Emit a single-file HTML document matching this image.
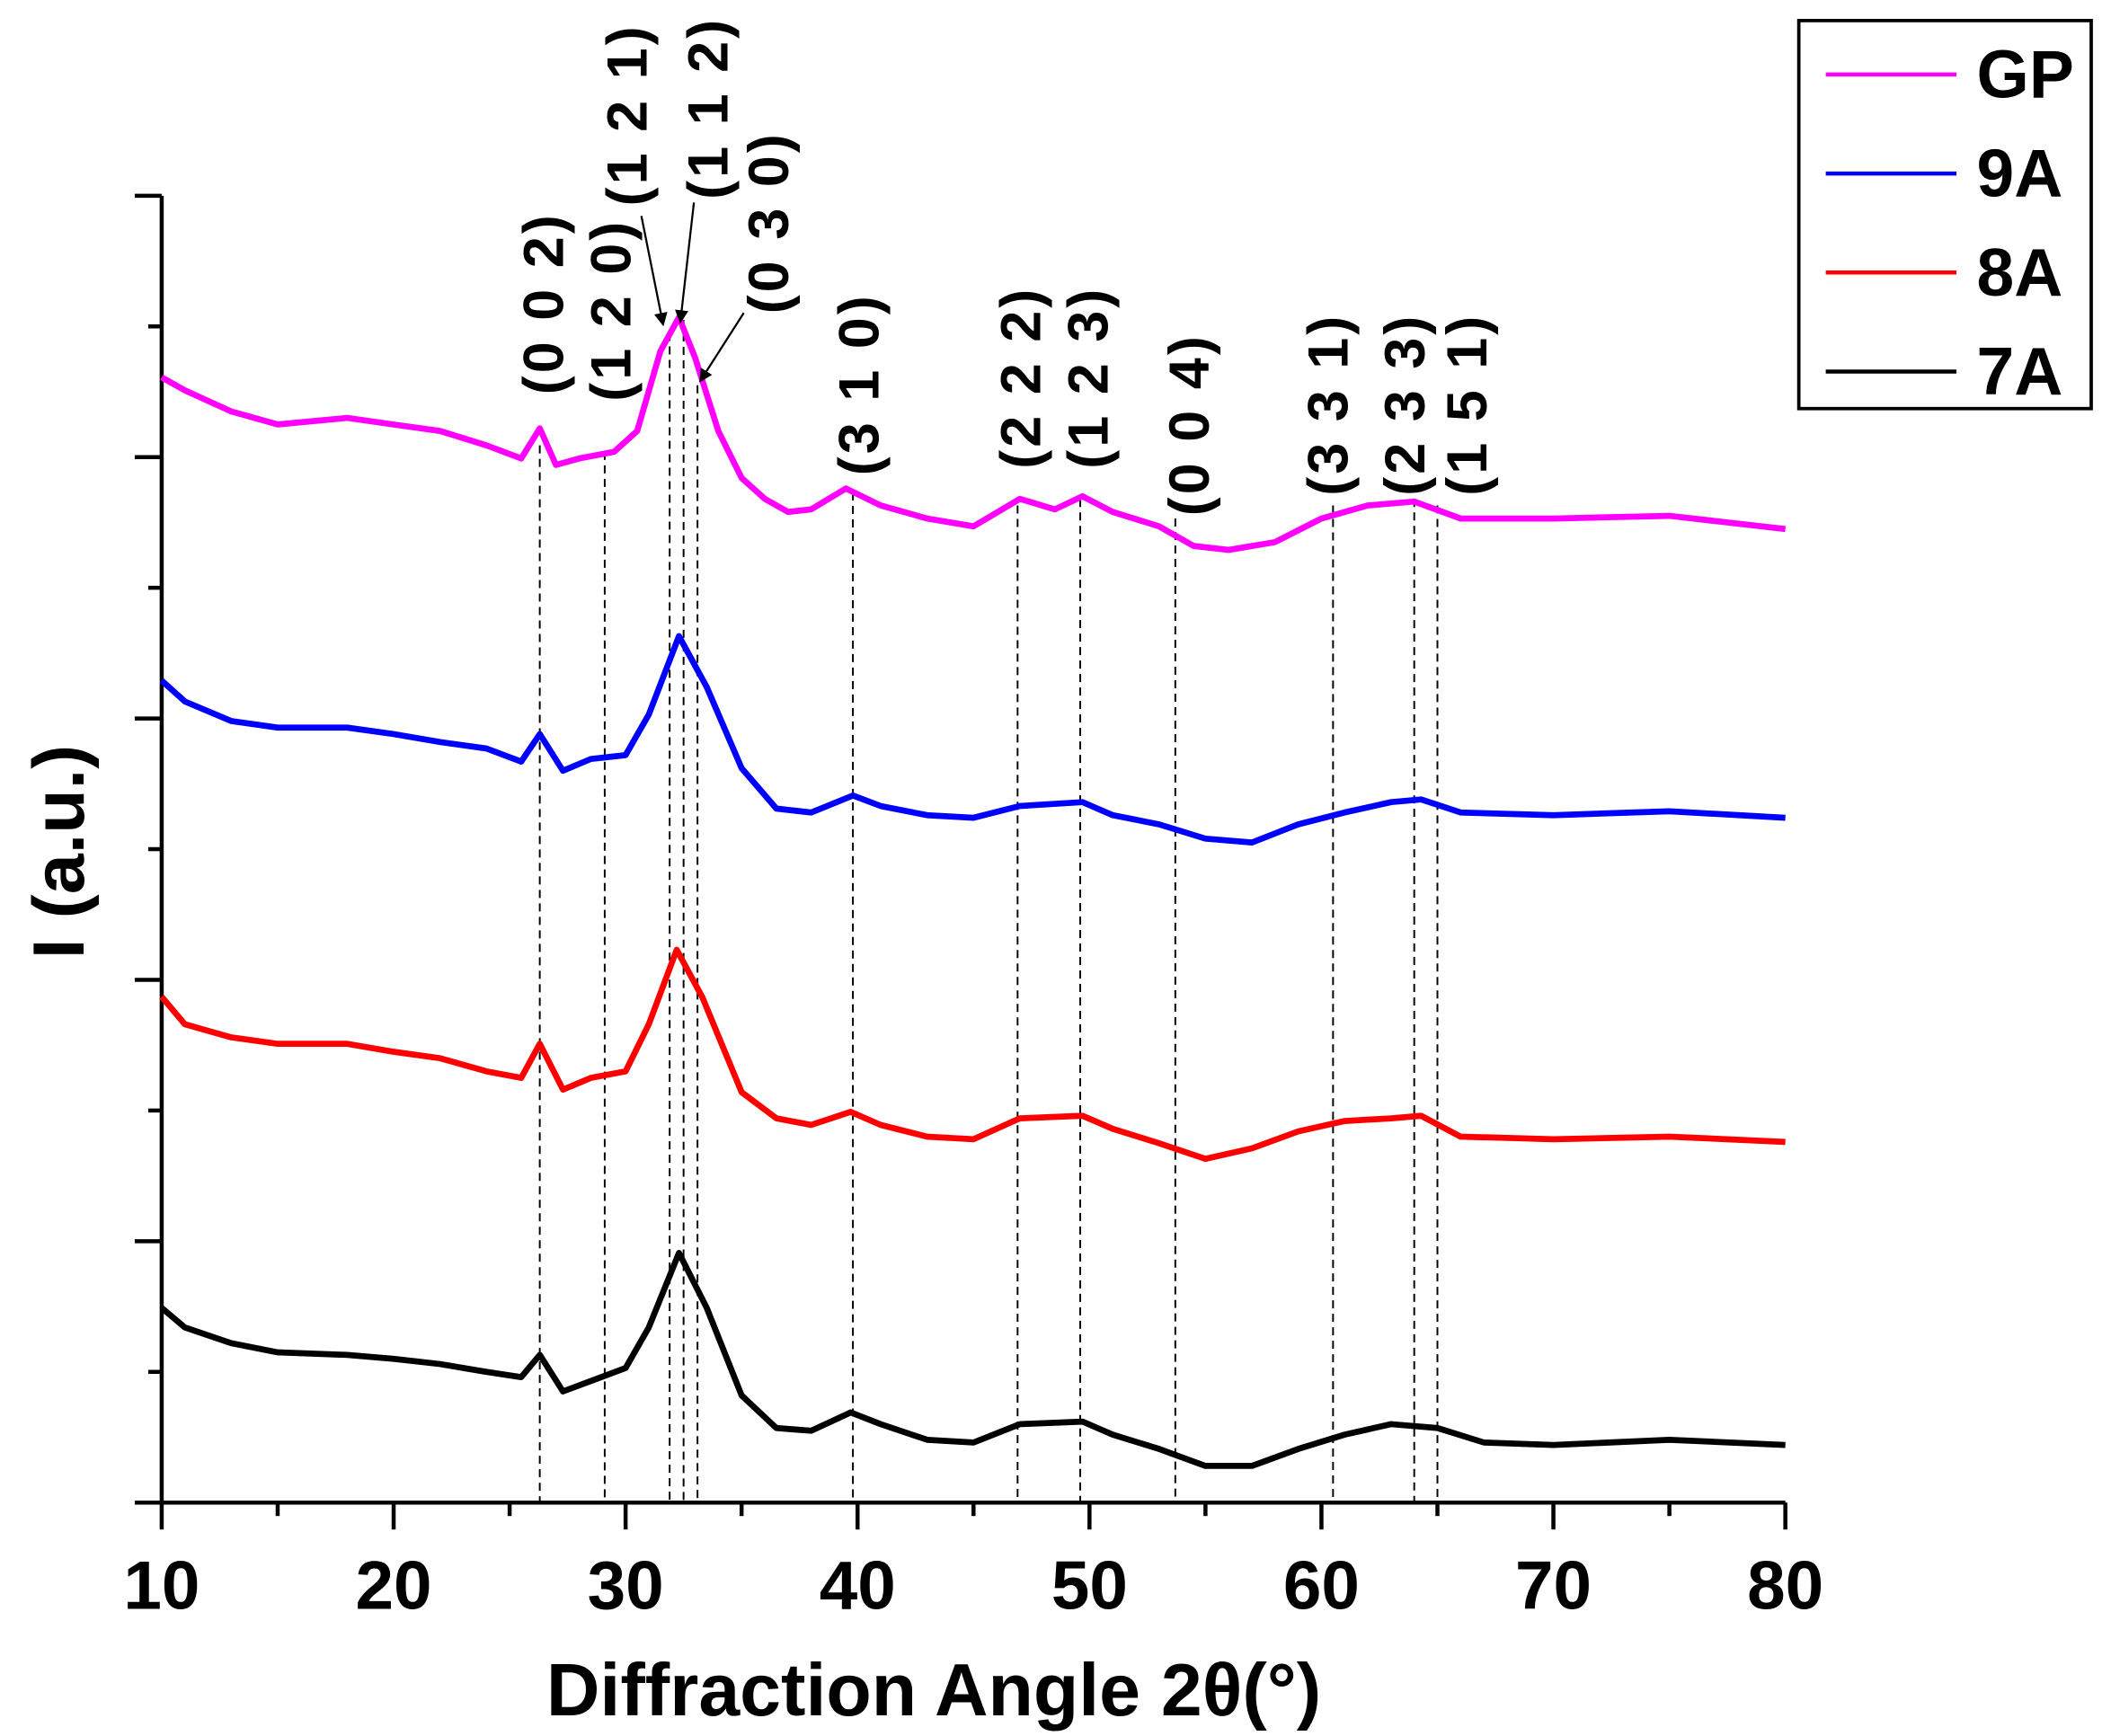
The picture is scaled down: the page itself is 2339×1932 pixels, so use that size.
<!DOCTYPE html>
<html><head><meta charset="utf-8"><style>
html,body{margin:0;padding:0;background:#fff}
svg{display:block}
text{font-family:"Liberation Sans",Arial,sans-serif;font-weight:bold;fill:#000}
</style></head><body>
<svg id="chart" width="2339" height="1932" viewBox="0 0 1560 1288" xmlns="http://www.w3.org/2000/svg">
<g id="axes"></g>
<g id="refs"></g>
<g id="series"></g>
<g id="labels"></g>
<g id="legend"></g>
<text x="693" y="1273" font-size="55" text-anchor="middle">Diffraction Angle 2θ(°)</text>
<text x="0" y="0" font-size="54" text-anchor="middle" transform="translate(62,632) rotate(-90)">I (a.u.)</text>
</svg>
<script>
const xTicks=[10,20,30,40,50,60,70,80];
const seriesNames=["GP","9A","8A","7A"];
const seriesColors=["#ff00ff","#0000ff","#ff0000","#000000"];
const gpX=[10,11,13,15,18,20,22,24,25.5,26.3,27,28,29.5,30.5,31.5,32.3,33,34,35,36,37,38,39.5,41,43,45,47,48.5,49.7,51,53,54.5,56,58,60,62,64,66,70,75,80];
const gpY=[86.1,85.1,83.5,82.5,83.0,82.5,82.0,80.9,79.9,82.2,79.4,79.9,80.4,82.0,88.1,90.7,87.6,82.0,78.4,76.8,75.8,76.0,77.6,76.3,75.3,74.7,76.8,76.0,77.0,75.8,74.7,73.2,72.9,73.5,75.3,76.3,76.6,75.3,75.3,75.5,74.5];
const a9X=[10,11,13,15,18,20,22,24,25.5,26.3,27.3,28.5,30,31,32.3,33.5,35,36.5,38,39.8,41,43,45,47,49.7,51,53,55,57,59,61,63,64.3,66,70,75,80];
const a9Y=[62.9,61.3,59.8,59.3,59.3,58.8,58.2,57.7,56.7,58.8,56.0,56.9,57.2,60.3,66.3,62.4,56.2,53.1,52.8,54.1,53.3,52.6,52.4,53.3,53.6,52.6,51.9,50.8,50.5,51.9,52.8,53.6,53.8,52.8,52.6,52.9,52.4];
const a8X=[10,11,13,15,18,20,22,24,25.5,26.3,27.3,28.5,30,31,32.2,33.3,35,36.5,38,39.7,41,43,45,47,49.7,51,53,55,57,59,61,63,64.3,66,70,75,80];
const a8Y=[38.7,36.6,35.6,35.1,35.1,34.5,34.0,33.0,32.5,35.1,31.6,32.5,33.0,36.6,42.3,38.7,31.4,29.4,28.9,29.9,28.9,28.0,27.8,29.4,29.6,28.6,27.5,26.3,27.1,28.4,29.2,29.4,29.6,28.0,27.8,28.0,27.6];
const a7X=[10,11,13,15,18,20,22,24,25.5,26.3,27.3,28.5,30,31,32.3,33.5,35,36.5,38,39.7,41,43,45,47,49.7,51,53,55,57,59,61,63,65,67,70,75,80];
const a7Y=[14.9,13.4,12.2,11.5,11.3,11.0,10.6,10.0,9.6,11.3,8.5,9.3,10.3,13.4,19.1,14.9,8.2,5.7,5.5,6.9,6.0,4.8,4.6,6.0,6.2,5.2,4.1,2.8,2.8,4.1,5.2,6.0,5.7,4.6,4.4,4.8,4.4];
const peakPos=[26.3,29.1,31.9,32.5,33.1,39.8,46.9,49.6,53.7,60.5,64.0,65.0];
const peakTop=[80.9,80.4,89.5,90.5,85.5,77.3,76.3,76.8,75.3,76.3,76.8,76.3];
const peakLabels=["(0 0 2)","(1 2 0)","(1 2 1)","(1 1 2)","(0 3 0)","(3 1 0)","(2 2 2)","(1 2 3)","(0 0 4)","(3 3 1)","(2 3 3)","(1 5 1)"];

const X0=120,X1=1325,YB=1115,YT=145;
const sx=v=>X0+(v-10)/(80-10)*(X1-X0);
const sy=v=>YB-v/100*(YB-YT);
const NS="http://www.w3.org/2000/svg";
function mk(tag,attrs,parent){const e=document.createElementNS(NS,tag);for(const k in attrs)e.setAttribute(k,attrs[k]);parent.appendChild(e);return e;}

const axes=document.getElementById('axes');
let e=mk('line',{x1:X0,y1:YT,x2:X0,y2:YB+1,stroke:'#000','stroke-width':3},axes);


e=mk('line',{x1:X0-1,y1:YB,x2:X1,y2:YB,stroke:'#000','stroke-width':3},axes);


for(let i=0;i<=10;i++){
  const y=YB-i*(YB-YT)/10;
  e=mk('line',{x1:X0-(i%2?10:20),y1:y,x2:X0,y2:y,stroke:'#000','stroke-width':3},axes);
  
  
}
for(let v=10;v<=80;v+=5){
  const major=v%10===0;
  e=mk('line',{x1:sx(v),y1:YB,x2:sx(v),y2:YB+(major?20:10),stroke:'#000','stroke-width':3},axes);
  
  
}
xTicks.forEach(v=>{
  const t=mk('text',{x:sx(v),y:1194,'font-size':51,'text-anchor':'middle'},axes);
  t.textContent=v;
  
  
});

const refs=document.getElementById('refs');
peakPos.forEach((p,i)=>{
  const l=mk('line',{x1:sx(p),y1:sy(peakTop[i]),x2:sx(p),y2:YB,stroke:'#000','stroke-width':1.3,'stroke-dasharray':'6,4'},refs);
  
  
});

const sg=document.getElementById('series');
const sets=[[gpX,gpY],[a9X,a9Y],[a8X,a8Y],[a7X,a7Y]];
sets.forEach((s,k)=>{
  const d=s[0].map((x,i)=>(i?'L':'M')+sx(x).toFixed(1)+','+sy(s[1][i]).toFixed(1)).join(' ');
  const p=mk('path',{d:d,fill:'none',stroke:seriesColors[k],'stroke-width':4.5,'stroke-linejoin':'round'},sg);
  
  
});

const lg=document.getElementById('labels');
const labelPos=[[403,225],[453,230],[465,85],[525,80],[570,165],[637,285],[757,280],[807,280],[882,315],[985,300],[1042,300],[1088,300]];
peakLabels.forEach((s,i)=>{
  const t=mk('text',{x:0,y:0,'font-size':42,'letter-spacing':'2','text-anchor':'middle',transform:`translate(${labelPos[i][0]+15},${labelPos[i][1]}) rotate(-90)`},lg);
  t.textContent=s;
  
  
});
mk('defs',{},lg).innerHTML='<marker id="ah" markerWidth="10" markerHeight="10" refX="8" refY="5" orient="auto" markerUnits="userSpaceOnUse"><path d="M0,0 L10,5 L0,10 z" fill="#000"/></marker>';
[[476,160,492,240],[515,150,505,238],[552,232,520,282]].forEach(a=>{
  const l=mk('line',{x1:a[0],y1:a[1],x2:a[2],y2:a[3],stroke:'#000','stroke-width':1.5,'marker-end':'url(#ah)'},lg);
  
  
});

const leg=document.getElementById('legend');
e=mk('rect',{x:1335,y:15,width:217,height:288,fill:'#fff',stroke:'#000','stroke-width':2.5},leg);


seriesNames.forEach((n,k)=>{
  const y=55+k*73.5;
  const l=mk('line',{x1:1355,y1:y,x2:1452,y2:y,stroke:seriesColors[k],'stroke-width':3},leg);
  
  
  const t=mk('text',{x:1467,y:y+17,'font-size':50},leg);
  t.textContent=n;
  
  
});
</script>
</body></html>
